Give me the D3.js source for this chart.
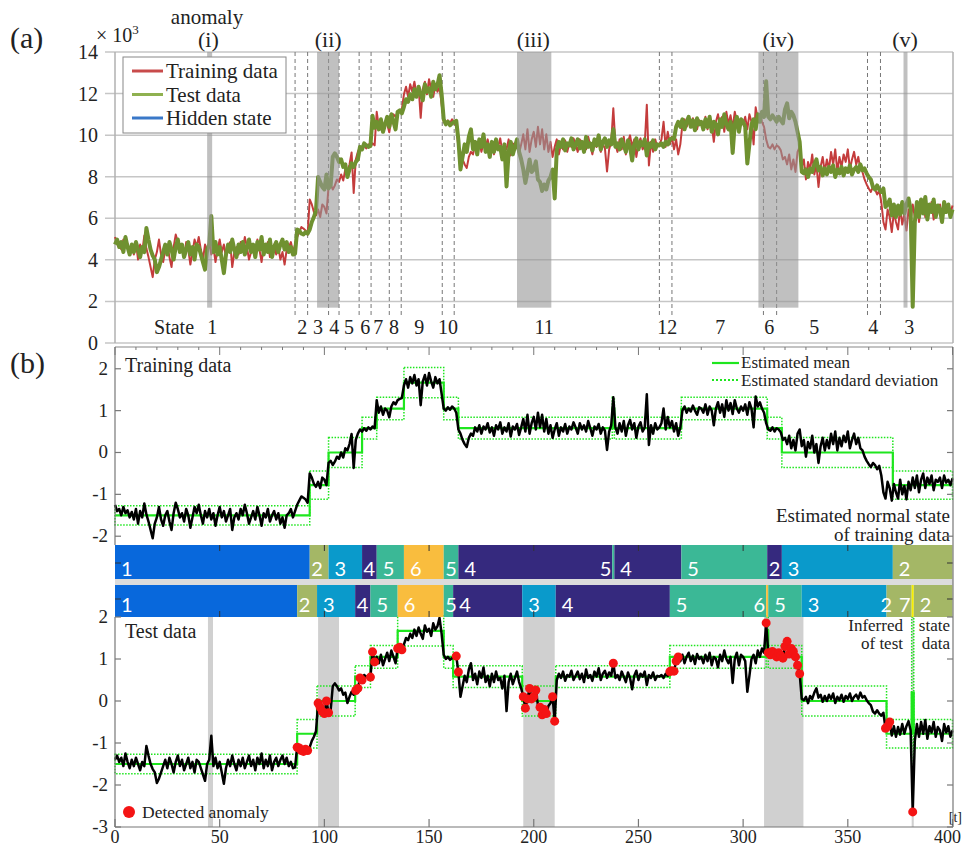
<!DOCTYPE html>
<html>
<head>
<meta charset="utf-8">
<script src="https://cdn.jsdelivr.net/npm/d3@7"></script>
<style>
  body { margin: 0; background: #fff; }
  svg  { display: block; }
</style>
</head>
<body>
<div id="chart"></div>
<script>

// ---- data -------------------------------------------------------------

// training series, normalised (panel b); panel (a) shows the same in 10^3 units
var trainZ = [
  -1.25,-1.40,-1.35,-1.50,-1.30,-1.45,-1.38,-1.55,-1.42,-1.60,-1.35,-1.70,-1.40,-1.55,-1.22,-1.48,-1.65,-1.85,-2.05,-1.70,
  -1.55,-1.30,-1.60,-1.75,-1.50,-1.40,-1.65,-1.85,-1.45,-1.20,-1.35,-1.55,-1.45,-1.65,-1.35,-1.50,-1.80,-1.55,-1.30,-1.45,
  -1.25,-1.50,-1.70,-1.40,-1.55,-1.35,-1.60,-1.45,-1.75,-1.50,-1.30,-1.55,-1.40,-1.65,-1.50,-1.35,-1.85,-1.55,-1.45,-1.60,
  -1.35,-1.50,-1.25,-1.45,-1.70,-1.55,-1.40,-1.60,-1.30,-1.50,-1.75,-1.45,-1.55,-1.35,-1.65,-1.50,-1.40,-1.60,-1.45,-1.70,
  -1.55,-1.80,-1.50,-1.45,-1.35,-1.55,-1.40,-1.25,-1.15,-1.05,-1.08,-1.12,-1.20,-0.50,-0.60,-0.75,-0.82,-0.70,-0.85,-0.60,
  -0.65,-0.78,-0.25,-0.20,-0.30,-0.22,-0.10,-0.15,0.00,-0.12,0.10,0.05,0.20,0.44,-0.37,0.30,0.45,0.55,0.50,0.58,
  0.52,0.60,0.55,0.62,0.58,1.25,0.95,1.10,0.90,1.05,1.00,0.84,1.10,1.20,1.15,1.25,1.28,1.30,1.60,1.75,
  1.55,1.80,1.65,1.85,1.60,1.75,1.13,1.70,1.85,1.60,1.90,1.70,1.55,1.80,1.65,1.75,1.40,1.05,1.00,1.08,
  1.02,1.10,1.05,0.95,0.55,0.45,0.30,0.20,0.13,0.35,0.45,0.40,0.60,0.50,0.65,0.45,0.62,0.55,0.70,0.48,
  0.60,0.40,0.65,0.55,0.72,0.45,0.60,0.50,0.70,0.38,0.62,0.55,0.68,0.42,0.60,0.80,0.50,0.90,0.45,0.70,
  0.85,0.55,0.95,0.60,0.90,0.50,0.80,0.45,0.65,0.35,0.55,0.70,0.40,0.60,0.50,0.68,0.45,0.62,0.55,0.72,
  0.60,0.45,0.70,0.55,0.65,0.50,0.75,0.58,0.40,0.62,0.55,0.68,0.45,0.60,0.52,0.06,0.50,0.65,1.32,0.60,
  0.45,0.70,0.50,0.75,0.40,0.65,0.78,0.55,0.70,0.35,0.62,0.72,0.50,0.60,1.39,0.18,0.65,0.45,0.70,0.55,
  0.60,0.70,1.05,0.55,0.85,0.60,0.75,0.50,0.70,0.40,0.60,1.00,1.10,0.95,1.05,0.98,1.12,1.00,0.90,1.08,
  1.05,0.95,1.15,0.90,1.10,1.00,0.65,1.05,1.20,0.95,1.15,0.85,1.25,1.00,1.18,0.92,1.25,1.05,0.95,1.10,
  1.00,1.15,0.90,1.20,1.05,0.60,1.34,1.10,1.20,1.05,0.95,0.70,0.55,0.52,0.60,0.50,0.58,0.55,0.48,0.30,
  0.35,0.20,0.40,0.10,0.30,0.05,0.45,0.55,0.15,0.30,-0.10,0.25,0.10,0.40,0.00,0.20,-0.25,0.15,0.35,0.05,
  0.30,0.10,0.45,0.20,0.50,0.05,0.35,0.15,0.40,0.25,0.50,0.10,0.30,0.45,0.20,0.35,0.10,0.05,-0.10,-0.20,
  -0.28,-0.35,-0.25,-0.30,-0.40,-0.32,-0.55,-0.95,-1.10,-0.70,-0.85,-1.15,-0.75,-0.95,-1.10,-0.65,-1.00,-0.80,-1.12,-0.70,
  -0.90,-0.60,-0.85,-0.55,-0.95,-0.65,-0.50,-0.85,-0.60,-0.75,-0.55,-0.90,-0.65,-0.70,-0.60,-0.85,-0.55,-0.72,-0.65,-0.78,
  -0.62
];

var testZ = [
  -1.40,-1.30,-1.45,-1.35,-1.55,-1.25,-1.45,-1.60,-1.40,-1.55,-1.35,-1.50,-1.65,-1.45,-1.55,-1.07,-1.30,-1.50,-1.62,-1.70,
  -1.95,-1.85,-1.70,-1.55,-1.40,-1.60,-1.35,-1.50,-1.70,-1.45,-1.30,-1.55,-1.40,-1.65,-1.50,-1.35,-1.60,-1.45,-1.70,-1.40,
  -1.45,-1.60,-1.75,-1.90,-1.50,-1.40,-0.83,-1.55,-1.35,-1.60,-1.45,-1.70,-1.97,-1.60,-1.40,-1.55,-1.30,-1.50,-1.65,-1.40,
  -1.55,-1.35,-1.60,-1.45,-1.30,-1.55,-1.40,-1.65,-1.35,-1.50,-1.25,-1.60,-1.40,-1.55,-1.30,-1.65,-1.45,-1.35,-1.55,-1.40,
  -1.30,-1.50,-1.35,-1.55,-1.45,-1.60,-1.58,-1.10,-1.12,-1.18,-1.20,-1.15,-1.18,-1.10,-0.95,-0.85,-0.72,-0.05,-0.15,-0.25,
  -0.30,0.00,-0.28,-0.22,0.35,0.42,0.35,0.25,0.30,0.15,0.20,-0.05,0.10,0.22,0.15,0.25,0.30,0.55,0.50,0.62,
  0.58,0.55,0.57,1.17,0.93,1.05,0.90,1.10,0.85,1.00,1.15,0.95,1.20,1.05,0.90,1.25,1.28,1.22,1.35,1.50,
  1.45,1.60,1.50,1.70,1.55,1.75,1.60,1.48,1.80,1.65,1.72,1.55,1.85,1.70,1.78,1.98,1.60,1.10,1.00,1.05,
  0.98,1.02,1.05,1.07,0.69,0.10,0.35,0.60,0.45,0.75,0.90,0.50,0.65,0.40,0.70,0.55,0.80,0.45,0.60,0.35,
  0.65,0.45,0.70,0.50,0.55,0.30,0.60,-0.24,0.45,0.65,0.40,0.55,0.70,0.45,0.30,0.10,-0.17,0.05,0.30,0.05,
  0.10,0.26,-0.10,-0.15,-0.33,-0.20,-0.30,-0.12,-0.05,0.10,-0.48,0.50,0.65,0.55,0.70,0.48,0.62,0.58,0.72,0.50,
  0.60,0.70,0.52,0.65,0.45,0.75,0.55,0.62,0.48,0.70,0.58,0.78,0.50,0.65,0.72,0.55,0.68,0.60,0.90,0.55,
  0.62,0.50,0.70,0.58,0.45,0.68,0.55,0.28,0.60,0.72,0.50,0.65,0.58,0.70,0.38,0.62,0.55,0.68,0.50,0.60,
  0.58,0.62,0.55,0.65,0.60,0.70,0.72,0.71,0.95,1.05,0.95,1.10,0.90,1.05,1.15,0.95,1.08,0.88,1.12,1.00,
  1.05,0.90,1.10,0.95,1.15,0.85,1.05,1.00,0.80,1.10,0.95,1.20,1.00,0.90,1.05,0.43,1.00,1.15,0.85,1.10,
  1.05,0.95,0.22,0.60,1.00,1.10,0.90,1.20,1.05,1.25,1.15,1.86,1.15,1.10,1.18,1.12,1.05,1.15,1.08,1.02,
  1.30,1.42,1.12,1.25,1.18,1.05,0.85,0.65,0.05,0.02,0.10,-0.05,0.12,0.05,0.20,0.30,0.08,0.15,-0.02,0.12,
  0.00,0.15,0.05,0.18,-0.05,0.10,0.02,0.15,-0.02,0.12,0.05,0.18,0.00,0.10,0.15,0.05,0.20,0.08,0.12,0.02,
  -0.05,-0.10,-0.25,-0.30,-0.22,-0.30,-0.35,-0.28,-0.65,-0.60,-0.50,-0.82,-0.60,-0.85,-0.62,-0.80,-0.55,-0.78,-0.60,-0.48,
  -0.70,-2.64,-0.95,-0.55,-0.85,-0.50,-0.78,-0.45,-0.90,-0.60,-0.75,-0.50,-0.85,-0.62,-0.70,-0.95,-0.55,-0.75,-0.60,-0.85,
  -0.70
];

// indices of test samples flagged as anomalies
var anomalyIdx = [87,88,89,90,91,92,97,98,99,100,101,102,115,116,117,118,122,123,124,135,136,137,163,164,
  195,196,197,198,199,200,201,203,204,205,206,209,210,238,265,266,267,268,269,
  311,312,313,314,315,316,317,318,319,320,321,322,323,324,325,326,327,368,369,370,381];

// raw scale used in panel (a): value[10^3] = z*rawStd + rawMean
var rawMean = 8.11, rawStd = 2.41;

// hidden states: estimated mean / std (normalised units) and colour
var stateMean  = [-1.5, -0.78, 0.0, 0.58, 1.05, 1.67, 0.2];
var stateSd    = [0.23, 0.34, 0.36, 0.26, 0.27, 0.36, 1.8];
var stateColor = ["#0868dc", "#a4b766", "#0a9acb", "#35297e", "#3bb896", "#f9bd3e", "#f6ee00"];

// estimated state sequence of training data
var trainBounds = [0, 93, 102, 118, 125, 138, 157, 164, 237.5, 238.5, 270.5, 311.5, 318.5, 371.5, 400];
var trainStates = [1, 2, 3, 4, 5, 6, 5, 4, 5, 4, 5, 4, 3, 2];
var trainLabels = ["1","2","3","4","5","6","5","4","5","4","5","2","3","2"];

// inferred state sequence of test data
var testBounds = [0, 87, 96.5, 114.7, 122, 135, 157, 161.5, 194.5, 210.5, 265, 311, 312, 328, 368.5, 380.5, 381.5, 400];
var testStates = [1, 2, 3, 4, 5, 6, 5, 4, 3, 4, 5, 6, 5, 3, 2, 7, 2];
var testLabels = ["1","2","3","4","5","6","5","4","3","4","5","6","5","3","2","7","2"];

// panel (a) annotations
var yTicksA       = [0, 2, 4, 6, 8, 10, 12, 14];
var anomalyRegA   = [[44, 46.4], [96.5, 107], [192, 208.4], [307.3, 326.4], [376.6, 378.5]];
var anomalyNames  = ["(i)", "(ii)", "(iii)", "(iv)", "(v)"];
var anomalyNameT  = [44.6, 101.8, 199.8, 316.8, 377.3];
var stateChangeT  = [86, 92, 102, 107, 116.6, 122.3, 131, 136.7, 156.3, 162, 260, 266, 309.7, 316, 359.4, 365.6];
var stateNameA    = ["State","1","2","3","4","5","6","7","8","9","10","11","12","7","6","5","4","3"];
var stateNameAT   = [28.2, 46.4, 89.4, 97, 104.7, 111.8, 119.5, 125.7, 133.3, 145.3, 159.1, 205, 263.8, 289.1, 312.5, 334, 362.2, 379.4];

// panel (b) annotations
var anomalyRegB = [[44.4, 46.8], [97, 107], [195, 210], [310, 328.8], [380.5, 381.5]];
var xTicks      = [0, 50, 100, 150, 200, 250, 300, 350, 400];
var yTicksTr    = [2, 1, 0, -1, -2];
var yTicksTe    = [2, 1, 0, -1, -2, -3];

// ---- setup ------------------------------------------------------------

var W = 963, H = 847;
var SERIF = "'Liberation Serif', 'Times New Roman', serif";
var svg = d3.select("#chart").append("svg")
  .attr("width", W).attr("height", H)
  .attr("font-family", SERIF);

var x   = d3.scaleLinear().domain([0, 400]).range([115, 952.5]);
var yA  = d3.scaleLinear().domain([0, 14]).range([343, 52]);
var yTr = d3.scaleLinear().domain([-2.21, 2.52]).range([545, 347]);
var yTe = d3.scaleLinear().domain([-3, 2]).range([827, 617]);

function toRaw(z) { return z * rawStd + rawMean; }

function segments(bounds, states, labels) {
  var out = [];
  for (let i = 0; i < states.length; i++) {
    out.push({from: bounds[i], to: bounds[i+1], s: states[i], label: labels[i]});
  }
  // a label just before a thin segment is pulled left so both stay readable
  out.forEach(function(d, i) {
    var next = out[i+1];
    d.beforeThin = !!next && (x(next.to) - x(next.from)) < 4;
  });
  return out;
}
var trainSeg = segments(trainBounds, trainStates, trainLabels);
var testSeg  = segments(testBounds, testStates, testLabels);

function meanPath(seg, y) {
  var pts = [];
  seg.forEach(function(d) {
    pts.push([x(d.from), y(stateMean[d.s-1])]);
    pts.push([x(d.to),   y(stateMean[d.s-1])]);
  });
  return d3.line()(pts);
}

var GREEN = "#1ee61e";
var INK   = "#222";

// ---- panel (a) --------------------------------------------------------

var gA = svg.append("g");

gA.selectAll(".grid").data(yTicksA).enter().append("line")
  .attr("x1", 105).attr("x2", 953)
  .attr("y1", function(d) { return yA(d); })
  .attr("y2", function(d) { return yA(d); })
  .attr("stroke", "#c6c6c6").attr("stroke-width", 1.5);

gA.append("line").attr("x1", 115).attr("x2", 115).attr("y1", 52).attr("y2", 343)
  .attr("stroke", "#b0b0b0").attr("stroke-width", 1.5);
gA.append("line").attr("x1", 953).attr("x2", 953).attr("y1", 52).attr("y2", 343)
  .attr("stroke", "#b0b0b0").attr("stroke-width", 1.5);

gA.selectAll(".ylab").data(yTicksA).enter().append("text")
  .attr("x", 98).attr("y", function(d) { return yA(d) + 7; })
  .attr("text-anchor", "end").attr("font-size", 20).attr("fill", INK)
  .text(function(d) { return d; });

// dashed state change lines
gA.selectAll(".chg").data(stateChangeT).enter().append("line")
  .attr("x1", function(d) { return x(d); }).attr("x2", function(d) { return x(d); })
  .attr("y1", 52).attr("y2", 317)
  .attr("stroke", "#777").attr("stroke-width", 1).attr("stroke-dasharray", "4,3");

var lineA = d3.line().x(function(d, i) { return x(i); }).y(function(d) { return yA(toRaw(d)); });

gA.append("path").datum(trainZ).attr("d", lineA)
  .attr("fill", "none").attr("stroke", "#c43c3c").attr("stroke-width", 2).attr("stroke-linejoin", "round");
gA.append("path").datum(testZ).attr("d", lineA)
  .attr("fill", "none").attr("stroke", "#6f9130").attr("stroke-width", 4).attr("stroke-linejoin", "round");

// anomaly shading (over the lines, semi transparent)
gA.selectAll(".anomA").data(anomalyRegA).enter().append("rect")
  .attr("x", function(d) { return x(d[0]); })
  .attr("width", function(d) { return x(d[1]) - x(d[0]); })
  .attr("y", 52).attr("height", yA(1.7) - 52)
  .attr("fill", "#969696").attr("opacity", 0.6);

gA.selectAll(".anomName").data(anomalyNames).enter().append("text")
  .attr("x", function(d, i) { return x(anomalyNameT[i]); }).attr("y", 47)
  .attr("text-anchor", "middle").attr("font-size", 22).attr("fill", INK)
  .text(function(d) { return d; });
gA.append("text").attr("x", 207).attr("y", 24).attr("text-anchor", "middle")
  .attr("font-size", 21).attr("fill", INK).text("anomaly");

gA.selectAll(".stName").data(stateNameA).enter().append("text")
  .attr("x", function(d, i) { return x(stateNameAT[i]); }).attr("y", 334)
  .attr("text-anchor", "middle").attr("font-size", 20).attr("fill", INK)
  .text(function(d) { return d; });

var mult = gA.append("text").attr("x", 96).attr("y", 42).attr("font-size", 20).attr("fill", INK);
mult.append("tspan").text("× 10");
mult.append("tspan").attr("dy", -8).attr("font-size", 13).text("3");

svg.append("text").attr("x", 10).attr("y", 48).attr("font-size", 30).attr("fill", INK).text("(a)");
svg.append("text").attr("x", 10).attr("y", 373).attr("font-size", 30).attr("fill", INK).text("(b)");

// legend (a)
var legA = gA.append("g");
legA.append("rect").attr("x", 123).attr("y", 57).attr("width", 163).attr("height", 76)
  .attr("fill", "#fff").attr("stroke", "#888").attr("stroke-width", 1);
[["Training data", "#c84b4b"], ["Test data", "#8fb150"], ["Hidden state", "#3a78c8"]].forEach(function(d, i) {
  var yy = 71 + i * 23.5;
  legA.append("line").attr("x1", 132).attr("x2", 163).attr("y1", yy).attr("y2", yy)
    .attr("stroke", d[1]).attr("stroke-width", 3);
  legA.append("text").attr("x", 166).attr("y", yy + 7).attr("font-size", 21).attr("fill", INK).text(d[0]);
});

// ---- panel (b) --------------------------------------------------------

var gB = svg.append("g");

// top axis line with ticks
gB.append("line").attr("x1", 115).attr("x2", 953).attr("y1", 347).attr("y2", 347)
  .attr("stroke", "#888").attr("stroke-width", 1.2);
gB.selectAll(".tt").data(d3.range(0, 401, 10)).enter().append("line")
  .attr("x1", function(d) { return x(d); }).attr("x2", function(d) { return x(d); })
  .attr("y1", 347).attr("y2", function(d) { return d % 50 === 0 ? 355 : 350; })
  .attr("stroke", "#777").attr("stroke-width", 1);

// training: std boxes, mean, data
gB.selectAll(".sdTr").data(trainSeg).enter().append("rect")
  .attr("x", function(d) { return x(d.from); })
  .attr("width", function(d) { return x(d.to) - x(d.from); })
  .attr("y", function(d) { return yTr(stateMean[d.s-1] + stateSd[d.s-1]); })
  .attr("height", function(d) { return yTr(stateMean[d.s-1] - stateSd[d.s-1]) - yTr(stateMean[d.s-1] + stateSd[d.s-1]); })
  .attr("fill", "none").attr("stroke", GREEN).attr("stroke-width", 1.5).attr("stroke-dasharray", "1.5,1.5");
gB.append("path").attr("d", meanPath(trainSeg, yTr))
  .attr("fill", "none").attr("stroke", GREEN).attr("stroke-width", 2.2);

var lineTr = d3.line().x(function(d, i) { return x(i); }).y(function(d) { return yTr(d); });
gB.append("path").datum(trainZ).attr("d", lineTr)
  .attr("fill", "none").attr("stroke", "#000").attr("stroke-width", 2.5).attr("stroke-linejoin", "round");

gB.append("text").attr("x", 125).attr("y", 372).attr("font-size", 20).attr("fill", INK).text("Training data");

// legend (b)
gB.append("line").attr("x1", 712).attr("x2", 739).attr("y1", 363).attr("y2", 363)
  .attr("stroke", GREEN).attr("stroke-width", 2.2);
gB.append("line").attr("x1", 712).attr("x2", 739).attr("y1", 380).attr("y2", 380)
  .attr("stroke", GREEN).attr("stroke-width", 2).attr("stroke-dasharray", "2,2");
gB.append("text").attr("x", 741).attr("y", 368).attr("font-size", 17).attr("fill", INK).text("Estimated mean");
gB.append("text").attr("x", 741).attr("y", 386).attr("font-size", 17).attr("fill", INK).text("Estimated standard deviation");

gB.append("text").attr("x", 950).attr("y", 522).attr("text-anchor", "end").attr("font-size", 19).attr("fill", INK).text("Estimated normal state");
gB.append("text").attr("x", 950).attr("y", 541).attr("text-anchor", "end").attr("font-size", 19).attr("fill", INK).text("of training data");

// test: shading, std boxes, mean, data, anomalies
gB.selectAll(".anomB").data(anomalyRegB).enter().append("rect")
  .attr("x", function(d) { return x(d[0]); })
  .attr("width", function(d) { return x(d[1]) - x(d[0]); })
  .attr("y", 617).attr("height", 210)
  .attr("fill", "#d0d0d0");

gB.selectAll(".sdTe").data(testSeg).enter().append("rect")
  .attr("x", function(d) { return x(d.from); })
  .attr("width", function(d) { return x(d.to) - x(d.from); })
  .attr("y", function(d) { return yTe(stateMean[d.s-1] + stateSd[d.s-1]); })
  .attr("height", function(d) { return yTe(stateMean[d.s-1] - stateSd[d.s-1]) - yTe(stateMean[d.s-1] + stateSd[d.s-1]); })
  .attr("fill", "none").attr("stroke", GREEN).attr("stroke-width", 1.5).attr("stroke-dasharray", "1.5,1.5");
gB.append("path").attr("d", meanPath(testSeg, yTe))
  .attr("fill", "none").attr("stroke", GREEN).attr("stroke-width", 2.2);

var lineTe = d3.line().x(function(d, i) { return x(i); }).y(function(d) { return yTe(d); });
gB.append("path").datum(testZ).attr("d", lineTe)
  .attr("fill", "none").attr("stroke", "#000").attr("stroke-width", 2.5).attr("stroke-linejoin", "round");

gB.selectAll(".dot").data(anomalyIdx).enter().append("circle")
  .attr("cx", function(d) { return x(d); })
  .attr("cy", function(d) { return yTe(testZ[d]); })
  .attr("r", 4.5).attr("fill", "#f41414");

gB.append("text").attr("x", 125).attr("y", 638).attr("font-size", 20).attr("fill", INK).text("Test data");
gB.append("text").attr("x", 903).attr("y", 631).attr("text-anchor", "end").attr("font-size", 17).attr("fill", INK).text("Inferred");
gB.append("text").attr("x", 950).attr("y", 631).attr("text-anchor", "end").attr("font-size", 17).attr("fill", INK).text("state");
gB.append("text").attr("x", 903).attr("y", 649).attr("text-anchor", "end").attr("font-size", 17).attr("fill", INK).text("of test");
gB.append("text").attr("x", 950).attr("y", 649).attr("text-anchor", "end").attr("font-size", 17).attr("fill", INK).text("data");

gB.append("circle").attr("cx", 129).attr("cy", 812).attr("r", 6).attr("fill", "#f41414");
gB.append("text").attr("x", 142).attr("y", 818).attr("font-size", 17.5).attr("fill", INK).text("Detected anomaly");

// ---- state bars -------------------------------------------------------

gB.append("rect").attr("x", 115).attr("y", 579).attr("width", 838).attr("height", 6).attr("fill", "#dcdcdc");

function drawBar(seg, y0, h, labelY) {
  var g = gB.append("g");
  g.selectAll("rect").data(seg).enter().append("rect")
    .attr("x", function(d) { return x(d.from); })
    .attr("width", function(d) { return Math.max(1.5, x(d.to) - x(d.from)); })
    .attr("y", y0).attr("height", h)
    .attr("fill", function(d) { return stateColor[d.s-1]; });
  g.selectAll("text").data(seg).enter().append("text")
    .attr("x", function(d) {
      var w = x(d.to) - x(d.from);
      if (w < 4) return x(d.from) - 1;
      if (d.beforeThin && w < 40) return x(d.from) - 6;
      return x(d.from) + (w < 25 ? 1.5 : 6);
    })
    .attr("text-anchor", function(d) { return (x(d.to) - x(d.from)) < 4 ? "end" : "start"; })
    .attr("y", labelY)
    .attr("font-family", "Lato, 'Open Sans', sans-serif").attr("font-size", 20).attr("fill", "#fff")
    .text(function(d) { return d.label; });
  return g;
}
drawBar(trainSeg, 545, 34, 576);
drawBar(testSeg, 585, 32, 612);

// axis ticks seen through the bars
var barTicks = gB.append("g").attr("stroke", "#333").attr("stroke-width", 1);
[50, 100, 150, 200, 250, 300, 350].forEach(function(t) {
  barTicks.append("line").attr("x1", x(t)).attr("x2", x(t)).attr("y1", 545).attr("y2", 551);
  barTicks.append("line").attr("x1", x(t)).attr("x2", x(t)).attr("y1", 611).attr("y2", 617);
});
[563, 599].forEach(function(yy) {
  barTicks.append("line").attr("x1", 115).attr("x2", 121).attr("y1", yy).attr("y2", yy);
  barTicks.append("line").attr("x1", 947).attr("x2", 953).attr("y1", yy).attr("y2", yy);
});

// ---- axes of panel (b) ------------------------------------------------

var ax = gB.append("g").attr("stroke", "#777").attr("stroke-width", 1.2);
ax.append("line").attr("x1", 115).attr("x2", 115).attr("y1", 347).attr("y2", 545);
ax.append("line").attr("x1", 953).attr("x2", 953).attr("y1", 347).attr("y2", 827);
ax.append("line").attr("x1", 115).attr("x2", 115).attr("y1", 617).attr("y2", 827);
ax.append("line").attr("x1", 115).attr("x2", 953).attr("y1", 827).attr("y2", 827);

function yTickMarks(ticks, y) {
  ticks.forEach(function(t) {
    ax.append("line").attr("x1", 115).attr("x2", 121).attr("y1", y(t)).attr("y2", y(t));
    ax.append("line").attr("x1", 947).attr("x2", 953).attr("y1", y(t)).attr("y2", y(t));
    gB.append("text").attr("x", 108).attr("y", y(t) + 6).attr("text-anchor", "end")
      .attr("font-size", 19).attr("fill", INK).text(t);
  });
}
yTickMarks(yTicksTr, yTr);
yTickMarks(yTicksTe, yTe);

xTicks.forEach(function(t) {
  ax.append("line").attr("x1", x(t)).attr("x2", x(t)).attr("y1", 819).attr("y2", 827);
  // the last label is kept inside the page edge
  var last = t === xTicks[xTicks.length - 1];
  gB.append("text").attr("x", last ? 961 : x(t)).attr("y", 843)
    .attr("text-anchor", last ? "end" : "middle")
    .attr("font-size", 18).attr("fill", INK).text(t);
});
gB.append("text").attr("x", 962).attr("y", 822).attr("text-anchor", "end")
  .attr("font-size", 14).attr("fill", INK).text("[t]");

</script>
</body>
</html>
